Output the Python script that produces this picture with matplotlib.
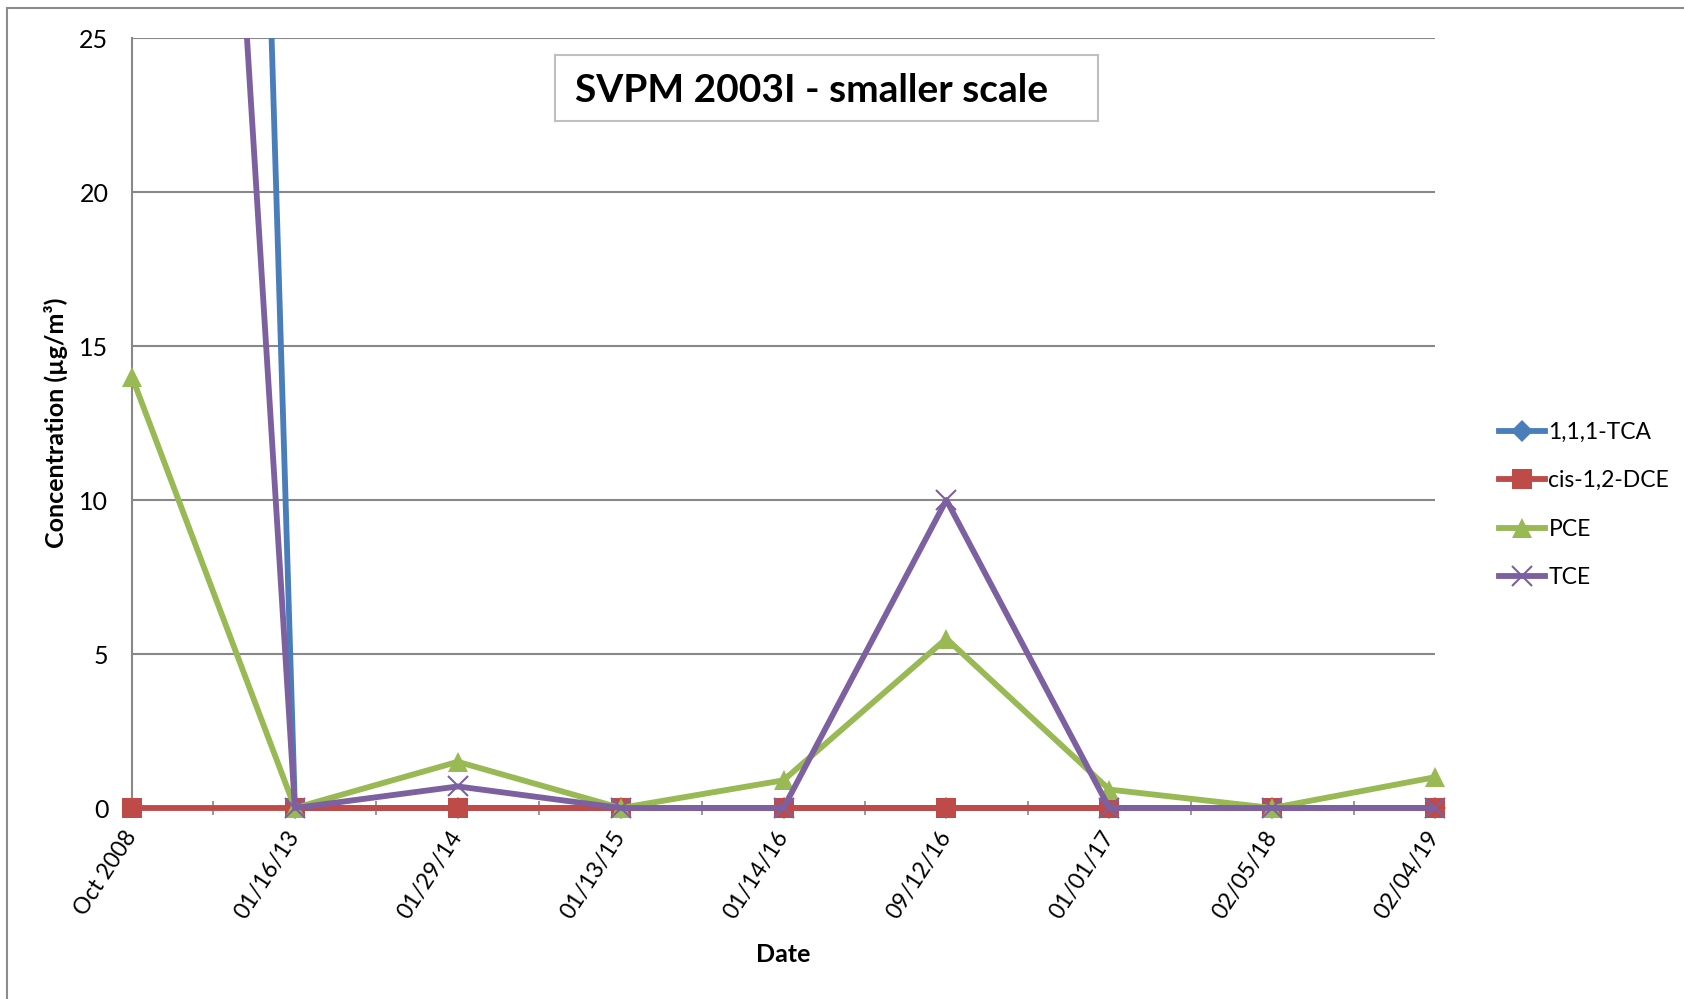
import matplotlib
matplotlib.use("Agg")
import matplotlib.pyplot as plt
from matplotlib.patches import Rectangle
from matplotlib.transforms import Bbox, TransformedBbox

plt.rcParams["font.family"] = ["Lato", "DejaVu Sans"]

dates = ["Oct 2008", "01/16/13", "01/29/14", "01/13/15", "01/14/16",
         "09/12/16", "01/01/17", "02/05/18", "02/04/19"]
tca = [175, 0, 0, 0, 0, 0, 0, 0, 0]
dce = [0, 0, 0, 0, 0, 0, 0, 0, 0]
pce = [14, 0, 1.5, 0, 0.9, 5.5, 0.6, 0, 1.0]
tce = [85, 0, 0.7, 0, 0, 10, 0, 0, 0]
y_ticks = [0, 5, 10, 15, 20, 25]

series = [
    ("1,1,1-TCA", tca, "#4A7EBB", "D", 11),
    ("cis-1,2-DCE", dce, "#BE4B48", "s", 14),
    ("PCE", pce, "#98B954", "^", 15),
    ("TCE", tce, "#7D60A0", "x", 14),
]

W, H = 1684, 999
fig = plt.figure(figsize=(W / 100, H / 100), dpi=100)
ax = fig.add_axes([132 / W, 1 - 808 / H, (1435 - 132) / W, (808 - 38) / H])

# outer chart-area border
fig.patches.append(Rectangle((7 / W, -0.1), 1.2, 1.1 - 8 / H, transform=fig.transFigure,
                             fill=False, edgecolor="#8c8c8c", linewidth=1.5, zorder=0))

x = list(range(len(dates)))
clip = TransformedBbox(Bbox([[-0.05, -0.05], [1.05, 1.0]]), ax.transAxes)
handles = []
for name, values, color, marker, ms in series:
    mew = 1.5 if marker == "x" else 0
    line, = ax.plot(x, values, color=color, linewidth=4.2, marker=marker, markersize=ms,
                    markeredgewidth=mew, markeredgecolor=color, label=name, zorder=3)
    line.set_clip_box(clip)
    handles.append(line)

ax.set_xlim(0, len(dates) - 1)
ax.set_ylim(0, 25)
ax.set_yticks(y_ticks)
ax.yaxis.grid(True, color="#888888", linewidth=1.5)
ax.set_axisbelow(True)
ax.tick_params(axis="y", length=0, pad=17, labelsize=18)
ax.set_xticks(x)
ax.set_xticklabels(dates, rotation=57, ha="right", va="center", rotation_mode="anchor", fontsize=16.5)
ax.tick_params(axis="x", length=0, pad=18)
ax.set_xticks([i + 0.5 for i in x[:-1]], minor=True)
ax.tick_params(axis="x", which="minor", direction="inout", length=10, width=1.2, color="#888888")

for side in ["top", "right"]:
    ax.spines[side].set_visible(False)
ax.spines["left"].set_color("#888888")
ax.spines["left"].set_linewidth(1.5)
ax.spines["bottom"].set_color("#888888")
ax.spines["bottom"].set_linewidth(1.5)

ax.set_ylabel("Concentration (µg/m³)", fontsize=18, fontweight="bold")
ax.yaxis.set_label_coords(68 / W, 1 - 423 / H, transform=fig.transFigure)
fig.text(783 / W, 1 - 954 / H, "Date", fontsize=18, fontweight="bold", ha="center", va="center")

# title box
fig.patches.append(Rectangle((555 / W, 1 - 121 / H), (1098 - 555) / W, 66 / H,
                             transform=fig.transFigure, facecolor="white",
                             edgecolor="#bfbfbf", linewidth=1.5, zorder=5))
fig.text(575 / W, 1 - 90 / H, "SVPM 2003I - smaller scale", fontsize=28, fontweight="bold",
         ha="left", va="center", zorder=6)

fig.legend(handles=handles, loc="center left", bbox_to_anchor=(1490 / W, 1 - 505 / H),
           frameon=False, fontsize=16.5, numpoints=1, handlelength=2.0, handletextpad=0.15,
           labelspacing=1.2, borderaxespad=0)

fig.savefig("out.png", dpi=100)
